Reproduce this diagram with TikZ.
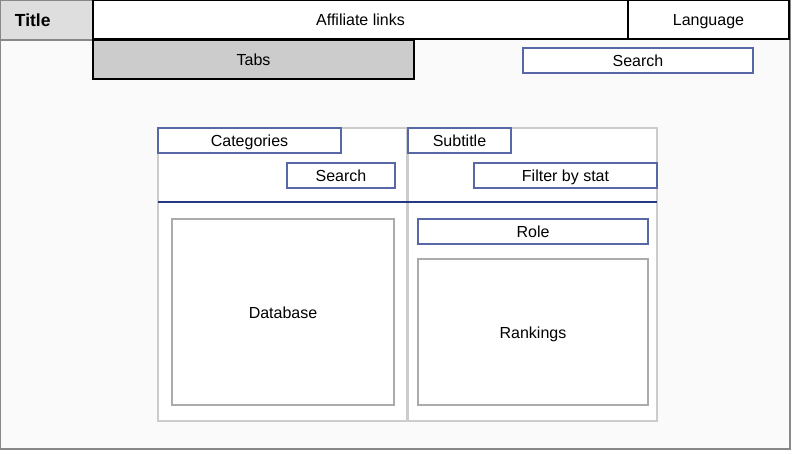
\documentclass[tikz,border=0pt]{standalone}
\usepackage{fontspec}
\setmainfont{Liberation Sans}
\usepackage{tikz}
\usetikzlibrary{positioning}

\definecolor{boxblue}{RGB}{88,103,166}
\definecolor{lineblue}{RGB}{38,56,130}
\definecolor{framegray}{RGB}{136,136,136}
\definecolor{pagegray}{RGB}{250,250,250}

\tikzset{
	wbox/.style={draw, rectangle, inner sep=0pt, text height=14pt, text depth=1.5pt, font=\fontsize{16}{19}\selectfont},
	bluebox/.style={wbox, draw=boxblue, line width=1.3pt, fill=white},
	panel/.style={wbox, draw=black!20, line width=1.3pt, fill=white},
	graybox/.style={wbox, draw=black!33, line width=1.3pt, fill=white}
}

\begin{document}
\begin{tikzpicture}[x=1pt,y=-1pt]
	\useasboundingbox (0,0) rectangle (793,453);
	% page frame and header
	\node[wbox, draw=framegray, fill=pagegray, line width=1.3pt, minimum width=790pt, minimum height=449pt] (page) at (395,224.5) {};
	\node[wbox, draw=framegray, fill=black!13, line width=1.3pt, minimum width=93pt, minimum height=40pt,
		label={[anchor=west, xshift=12pt, text height=14pt, text depth=1.5pt, font=\fontsize{17.5}{20}\selectfont\bfseries]west:Title}] (title) at (46.5,20) {};
	\node[wbox, fill=white, line width=1.3pt, minimum width=535pt, minimum height=39pt] (links) at (360.5,19.5) {Affiliate links};
	\node[wbox, fill=white, line width=1.3pt, minimum width=161pt, minimum height=39pt] (lang) at (708.5,19.5) {Language};
	\node[wbox, fill=black!20, line width=1.3pt, minimum width=321pt, minimum height=39pt] (tabs) at (253.5,59.5) {Tabs};
	\node[bluebox, minimum width=230pt, minimum height=25pt] (search) at (638,60.5) {Search};
	% content panels
	\node[panel, minimum width=249pt, minimum height=293pt] (left) at (282.5,274.5) {};
	\node[panel, minimum width=249pt, minimum height=293pt] (right) at (532.5,274.5) {};
	\node[bluebox, minimum width=183pt, minimum height=25pt] (cats) at (249.5,140.5) {Categories};
	\node[bluebox, minimum width=103pt, minimum height=25pt] (subtitle) at (459.5,140.5) {Subtitle};
	\node[bluebox, minimum width=108pt, minimum height=25pt] (search2) at (341,175.5) {Search};
	\node[bluebox, minimum width=183pt, minimum height=25pt] (filter) at (565.5,175.5) {Filter by stat};
	\coordinate (rule1) at (158,202);
	\coordinate (rule2) at (657,202);
	\draw[lineblue, line width=2.2pt] (rule1) -- (rule2);
	\node[graybox, minimum width=222pt, minimum height=186pt] (db) at (283,312) {Database};
	\node[bluebox, minimum width=230pt, minimum height=25pt] (role) at (533,231.5) {Role};
	\node[graybox, minimum width=230pt, minimum height=146pt] (rank) at (533,332) {Rankings};
\end{tikzpicture}
\end{document}
